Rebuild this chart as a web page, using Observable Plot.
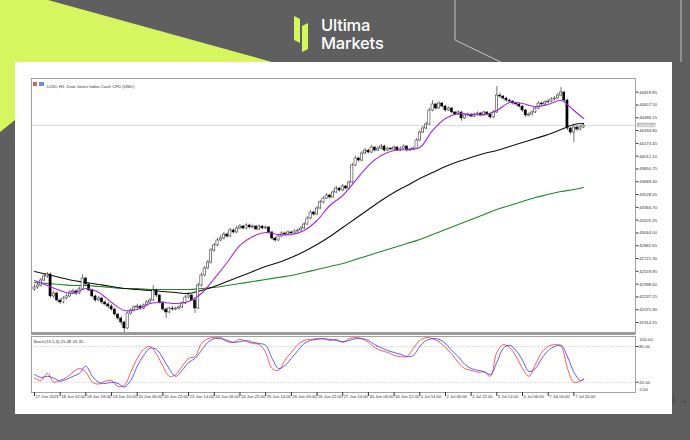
<!DOCTYPE html>
<html><head><meta charset="utf-8">
<script src="https://cdn.jsdelivr.net/npm/d3@7"></script>
<script src="https://cdn.jsdelivr.net/npm/@observablehq/plot@0.6"></script>
<style>
html,body{margin:0;padding:0;}
body{width:690px;height:440px;overflow:hidden;background:#5f5f5f;position:relative;font-family:Inter,"DejaVu Sans",sans-serif;}
#bg{position:absolute;left:0;top:0;}
#panel{position:absolute;left:15px;top:62px;width:657px;height:352px;background:#fff;}
#price,#stoch{position:absolute;left:0;}
#price{top:0;}
#stoch{top:333px;}
#ov{position:absolute;left:0;top:0;pointer-events:none;}
</style></head><body>
<svg id="bg" width="690" height="440">
  <polygon points="0,0 48,0 272,62 15,62 15,120 0,132" fill="#d5f65f"/>
  <polyline points="455,0 455,40 540,81" fill="none" stroke="#c4c4c4" stroke-width="1"/>
  <line x1="681" y1="0" x2="681" y2="62" stroke="#c4c4c4" stroke-width="1"/>
  <polygon points="294,16 300,19 300,43 294,40" fill="#d5f65f"/>
  <polygon points="302,26 308,23 308,49 302,52" fill="#d5f65f"/>
  <g fill="#fff" font-family="Inter, Roboto, sans-serif" font-weight="500" font-size="16.5" letter-spacing="-0.2">
    <text x="321" y="30.5">Ultima</text>
    <text x="321" y="49">Markets</text>
  </g>
</svg>
<div id="panel"></div>
<div id="price"></div>
<div id="stoch"></div>
<svg id="ov" width="690" height="440">
  <rect x="33" y="82" width="4" height="4" fill="#e06060"/>
  <rect x="39" y="82" width="5" height="4" fill="#6a8fd8"/>
</svg>
<script>
// ---- data ----
const opens = [42330,42356,42381,42444,42495,42520,42243,42280,42192,42167,
42217,42243,42293,42306,42280,42331,42469,42394,42318,42243,
42192,42217,42167,42142,42116,42078,42015,41965,41915,41839,
42028,42066,42104,42116,42091,42129,42167,42192,42318,42255,
42167,42078,42041,42091,42078,42091,42104,42154,42230,42255,
42192,42091,42381,42507,42596,42671,42823,42886,42949,42974,
43024,42999,43075,43050,43100,43125,43100,43138,43113,43125,
43087,43125,43100,43113,43050,42974,42949,42999,43037,43024,
43050,43037,43062,43075,43100,43150,43226,43302,43276,43352,
43428,43478,43516,43491,43554,43604,43579,43630,43604,43680,
43894,43983,43957,44046,44083,44058,44121,44083,44108,44134,
44083,44108,44096,44121,44083,44108,44134,44083,44096,44108,
44210,44310,44361,44411,44588,44664,44613,44676,44638,44588,
44613,44563,44537,44563,44487,44525,44537,44512,44537,44550,
44525,44563,44537,44500,44563,44777,44764,44739,44714,44701,
44676,44664,44638,44588,44525,44537,44563,44613,44676,44664,
44689,44701,44727,44739,44777,44815,44714,44361,44310,44374,
44348,44374];
const closes = [42356,42381,42444,42495,42520,42243,42280,42192,42167,42217,
42243,42293,42306,42280,42331,42469,42394,42318,42243,42192,
42217,42167,42142,42116,42078,42015,41965,41915,41839,42028,
42066,42104,42116,42091,42129,42167,42192,42318,42255,42167,
42078,42041,42091,42078,42091,42104,42154,42230,42255,42192,
42091,42381,42507,42596,42671,42823,42886,42949,42974,43024,
42999,43075,43050,43100,43125,43100,43138,43113,43125,43087,
43125,43100,43113,43050,42974,42949,42999,43037,43024,43050,
43037,43062,43075,43100,43150,43226,43302,43276,43352,43428,
43478,43516,43491,43554,43604,43579,43630,43604,43680,43894,
43983,43957,44046,44083,44058,44121,44083,44108,44134,44083,
44108,44096,44121,44083,44108,44134,44083,44096,44108,44210,
44310,44361,44411,44588,44664,44613,44676,44638,44588,44613,
44563,44537,44563,44487,44525,44537,44512,44537,44550,44525,
44563,44537,44500,44563,44777,44764,44739,44714,44701,44676,
44664,44638,44588,44525,44537,44563,44613,44676,44664,44689,
44701,44727,44739,44777,44815,44714,44361,44310,44374,44348,
44374,44399];
const highs = [42394,42420,42470,42530,42545,42540,42310,42300,42215,42240,
42270,42320,42335,42325,42360,42520,42490,42410,42335,42260,
42245,42235,42190,42165,42140,42095,42030,41990,41930,42050,
42090,42125,42145,42135,42150,42190,42215,42381,42335,42270,
42180,42095,42110,42115,42110,42125,42175,42255,42290,42270,
42215,42410,42535,42620,42700,42850,42915,42980,43010,43050,
43045,43100,43095,43130,43150,43140,43160,43155,43145,43140,
43145,43140,43130,43125,43065,42990,43020,43060,43055,43070,
43065,43085,43095,43125,43175,43250,43325,43320,43375,43455,
43500,43540,43535,43580,43630,43620,43655,43645,43700,43920,
44010,44000,44070,44110,44100,44145,44135,44130,44160,44150,
44125,44120,44140,44135,44125,44155,44145,44115,44130,44235,
44335,44390,44440,44615,44714,44680,44700,44690,44655,44635,
44630,44580,44585,44575,44545,44555,44550,44555,44570,44565,
44580,44575,44550,44585,44890,44805,44780,44755,44730,44715,
44695,44680,44650,44600,44560,44585,44635,44700,44695,44710,
44725,44750,44765,44800,44878,44830,44730,44380,44395,44395,
44395,44415];
const lows = [42305,42330,42360,42430,42470,42220,42215,42170,42140,42150,
42200,42230,42270,42255,42265,42320,42370,42300,42225,42170,
42175,42140,42120,42090,42060,41995,41940,41880,41789,41825,
42005,42050,42080,42070,42075,42110,42150,42180,42230,42150,
42055,41965,42025,42060,42060,42075,42090,42140,42215,42175,
42028,42080,42360,42490,42580,42650,42800,42870,42930,42955,
42975,42985,43030,43035,43085,43080,43085,43095,43095,43070,
43075,43085,43085,43030,42950,42925,42935,42985,43005,43010,
43020,43025,43045,43060,43090,43140,43210,43255,43265,43340,
43410,43465,43470,43480,43540,43560,43565,43585,43590,43665,
43880,43935,43945,44030,44040,44045,44065,44070,44095,44065,
44070,44080,44085,44070,44070,44095,44065,44070,44080,44100,
44195,44295,44345,44400,44570,44595,44600,44620,44570,44575,
44545,44520,44525,44455,44475,44510,44495,44500,44525,44510,
44515,44520,44480,44490,44550,44740,44720,44695,44680,44655,
44645,44620,44565,44500,44505,44520,44550,44600,44645,44650,
44670,44690,44710,44725,44760,44695,44335,44280,44184,44325,
44330,44360];

// moving averages, read every 4th bar (last bar appended)
const maFast = [42444,42381,42318,42280,42343,42293,42167,42066,42078,42154,42167,42154,42179,42280,42469,42671,42886,42999,43050,43024,43024,43075,43201,43390,43516,43705,43894,44020,44083,44096,44121,44336,44487,44550,44537,44537,44588,44689,44676,44638,44664,44714,44588,44487];
const maMid = [42558,42520,42482,42444,42419,42394,42369,42343,42331,42318,42306,42293,42280,42318,42369,42431,42495,42558,42621,42671,42734,42810,42898,42999,43113,43226,43340,43453,43554,43642,43730,43806,43882,43945,43995,44046,44083,44134,44184,44235,44285,44348,44411,44424];
const maSlow = [42419,42406,42394,42381,42381,42369,42356,42343,42343,42331,42331,42331,42331,42343,42356,42381,42406,42431,42457,42482,42507,42545,42583,42621,42659,42709,42760,42810,42860,42911,42961,43024,43087,43150,43213,43276,43340,43390,43440,43491,43529,43566,43592,43617];

// stochastic, read every 2nd bar (last bar appended)
const stochMain = [33,28,30,27,22,25,30,35,47,30,20,18,20,18,12,23,47,65,77,75,60,42,30,40,53,60,73,87,93,93,90,87,88,90,87,85,82,60,43,48,60,73,85,90,92,93,92,90,88,90,93,93,90,83,78,73,70,67,63,65,80,90,93,92,85,73,63,50,43,40,38,33,53,77,82,73,57,38,43,60,73,80,82,63,37,23,24.35];
const stochSignal = [27,23,35,20,23,28,37,43,37,20,17,22,23,13,15,37,60,75,80,67,47,30,33,47,60,63,85,93,95,95,88,87,92,88,85,83,70,43,40,57,70,83,90,92,93,93,90,92,87,93,95,93,87,78,73,70,65,63,63,77,90,95,93,88,78,67,53,43,40,37,37,30,70,83,78,63,43,30,50,70,80,83,80,43,20,22,25.48];

const priceTicks = [44818.85,44657.50,44496.15,44334.80,44173.45,44012.10,43850.75,43689.40,43528.05,43366.70,43205.35,43044.00,42882.65,42721.30,42559.95,42398.60,42237.25,42075.90,41914.55];
const timeLabels = ["17 Jun 2025","18 Jun 02:00","18 Jun 18:00","19 Jun 10:00","20 Jun 06:00","20 Jun 22:00","23 Jun 14:00","24 Jun 06:00","24 Jun 22:00","25 Jun 14:00","26 Jun 06:00","26 Jun 22:00","27 Jun 14:00","30 Jun 06:00","30 Jun 22:00","1 Jul 14:00","2 Jul 06:00","2 Jul 22:00","3 Jul 14:00","4 Jul 06:00","7 Jul 04:00","7 Jul 20:00"];
const chartTitle = "DJ30, H1: Dow Jones Index Cash CFD (USD)";
const stochTitle = "Stoch(13,5,3) 25.48 24.35";

// ---- build ----
const n = closes.length;
const candles = d3.range(n).map(i => ({i, o: opens[i], h: highs[i], l: lows[i], c: closes[i]}));
const maIdx = d3.range(0, n - 1, 4).concat([n - 1]);
const maRows = maIdx.map((i, k) => ({i, fast: maFast[k], mid: maMid[k], slow: maSlow[k]}));
const stIdx = d3.range(0, n - 1, 2).concat([n - 1]);
const stRows = stIdx.map((i, k) => ({i, main: stochMain[k], sig: stochSignal[k]}));
const tickIdx = timeLabels.map((_, k) => k * 8);
const last = closes[n - 1];

const X = {domain: [-0.933, 187.19], axis: null};
const font = "'Liberation Sans','DejaVu Sans',sans-serif";

const price = Plot.plot({
  width: 690, height: 336,
  marginLeft: 31, marginRight: 55, marginTop: 78, marginBottom: 3,
  x: X,
  y: {domain: [41775.8, 44991.6], axis: null},
  color: {type: "identity"},
  style: {background: "transparent", fontFamily: font, color: "#333"},
  marks: [
    Plot.ruleY([last], {stroke: "#cfcfcf", strokeWidth: 0.8}),
    Plot.line(maRows, {x: "i", y: "slow", stroke: "#1f8a23", strokeWidth: 1.1, curve: "catmull-rom"}),
    Plot.line(maRows, {x: "i", y: "mid", stroke: "#111", strokeWidth: 1.1, curve: "catmull-rom"}),
    Plot.ruleX(candles, {x: "i", y1: "l", y2: "h", stroke: "#000", strokeWidth: 0.55}),
    Plot.rect(candles, {x1: d => d.i - 0.34, x2: d => d.i + 0.34, y1: "o", y2: "c",
      fill: d => d.c >= d.o ? "#fff" : "#000", stroke: "#000", strokeWidth: 0.45}),
    Plot.line(maRows, {x: "i", y: "fast", stroke: "#a524e6", strokeWidth: 1.1, curve: "catmull-rom"}),
    Plot.frame({stroke: "#8a8a8a", strokeWidth: 0.8}),
    Plot.ruleY([41775.8], {stroke: "#9a9a9a", strokeWidth: 3}),
    Plot.axisY({ticks: priceTicks, anchor: "right", tickSize: 2.5, tickPadding: 1.2,
      tickFormat: d => d.toFixed(2), fontSize: 4.3}),
    Plot.rect([last], {x1: 187.8, x2: 193.6, y1: d => d - 28, y2: d => d + 28, fill: "#bdbdbd"}),
    Plot.text([last], {x: 187.19, y: d => d, dx: 3, text: d => d.toFixed(2), textAnchor: "start", fill: "#fff", fontSize: 4.3}),
    Plot.text([chartTitle], {frameAnchor: "top-left", dx: 15, dy: 6, textAnchor: "start", fontSize: 4.3, fill: "#333"})
  ]
});
document.getElementById("price").appendChild(price);

const stoch = Plot.plot({
  width: 690, height: 72,
  marginLeft: 31, marginRight: 55, marginTop: 3, marginBottom: 13,
  x: X,
  y: {domain: [2.8, 96.7], axis: null},
  style: {background: "transparent", fontFamily: font, color: "#333"},
  marks: [
    Plot.ruleY([80, 20], {stroke: "#b5b5b5", strokeWidth: 0.6, strokeDasharray: "1.5,1.5"}),
    Plot.line(stRows, {x: "i", y: "sig", stroke: "#ff3030", strokeWidth: 0.8, curve: "catmull-rom"}),
    Plot.line(stRows, {x: "i", y: "main", stroke: "#3434ff", strokeWidth: 0.8, curve: "catmull-rom"}),
    Plot.frame({stroke: "#8a8a8a", strokeWidth: 0.8}),
    Plot.axisY({ticks: [80, 20], anchor: "right", tickSize: 2.5, tickPadding: 1.2, tickFormat: d => d.toFixed(2), fontSize: 4.3}),
    Plot.text(["100.00"], {frameAnchor: "top-right", dx: 4, dy: 1.5, textAnchor: "start", fontSize: 4.3}),
    Plot.text(["0.00"], {frameAnchor: "bottom-right", dx: 4, dy: -1.5, textAnchor: "start", fontSize: 4.3}),
    Plot.axisX({ticks: tickIdx, anchor: "bottom", tickSize: 4, text: null}),
    Plot.text(tickIdx, {x: d => d, frameAnchor: "bottom", dy: 5, dx: 1, text: (d, k) => timeLabels[k], textAnchor: "start", fontSize: 4.2}),
    Plot.text([stochTitle], {frameAnchor: "top-left", dx: 2, dy: 3.5, textAnchor: "start", fontSize: 4.3})
  ]
});
document.getElementById("stoch").appendChild(stoch);
</script>
</body></html>
